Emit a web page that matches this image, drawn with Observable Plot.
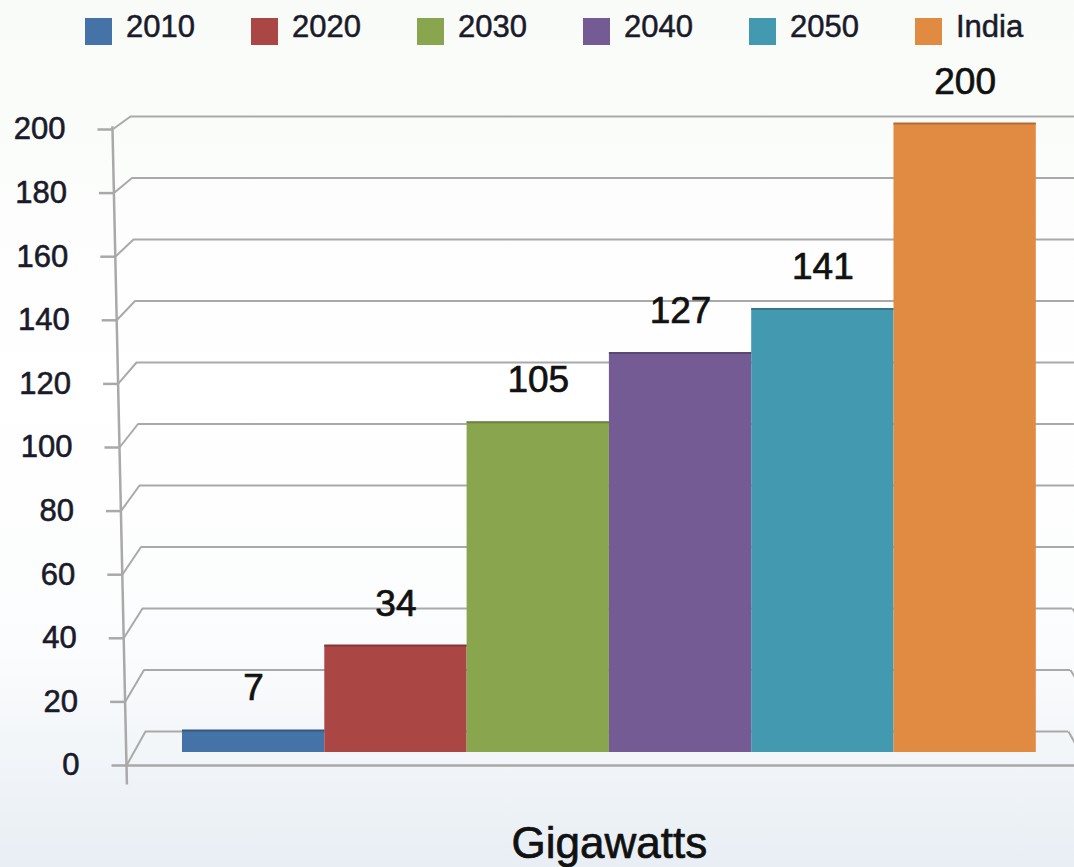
<!DOCTYPE html>
<html>
<head>
<meta charset="utf-8">
<script src="https://cdn.jsdelivr.net/npm/d3@7"></script>
<script src="https://cdn.jsdelivr.net/npm/@observablehq/plot@0.6"></script>
<style>
  html, body { margin: 0; padding: 0; overflow: hidden; }
  body {
    width: 1074px; height: 867px;
    background: linear-gradient(180deg, #f8fbf8 0%, #ffffff 45%, #fbfcfd 75%, #e8eef4 100%);
    font-family: "Liberation Sans", Arial, sans-serif;
  }
  #legend { position: relative; height: 60px; width: 1074px; }
  .item-sw { position: absolute; top: 18px; width: 27px; height: 27px; }
  .item-tx { position: absolute; top: 11px; font-size: 31px; line-height: 31px; color: #1a1a2a; -webkit-text-stroke: 0.5px #1a1a2a; }
  #chart svg { display: block; }
</style>
</head>
<body>
<div id="legend"></div>
<div id="chart"></div>
<script>
// ---- data ----
const categories = ["2010", "2020", "2030", "2040", "2050", "India"];
const values = [7, 34, 105, 127, 141, 200];
const labels = ["7", "34", "105", "127", "141", "200"];
const colors = ["#4572A7", "#AA4643", "#89A54E", "#745B93", "#4299B0", "#E08A42"];
const yTicks = [0, 20, 40, 60, 80, 100, 120, 140, 160, 180, 200];
const xLabel = "Gigawatts";

// ---- layout (pixels) ----
const W = 1074, H = 807;
const SLOT_PX = 142.3, BAR_LEFT_PX = 182;
const U = px => (px - BAR_LEFT_PX) / SLOT_PX;          // pixel -> slot units on x
const BAR_PX_PER_UNIT = 3.145;
// depth planes of the pseudo-3D box, expressed in bar-plane value units
const plane = (v, baseShiftPx, pxPerUnit) => (pxPerUnit * v - baseShiftPx) / BAR_PX_PER_UNIT;
const front = v => plane(v, 13, 3.18);
const back = v => plane(v, -21, 3.075);
const xFront = v => 126 - 0.07 * v;
const xBack = v => 145 - 0.075 * v;
const xBackRight = v => 1068 + 0.1 * v;
const gridColor = "#a9a9a9";
const ink = "#1a1a2a";

// ---- legend ----
const legend = document.getElementById("legend");
categories.forEach((c, i) => {
  const sw = document.createElement("div");
  sw.className = "item-sw";
  sw.style.left = (85 + 166 * i) + "px";
  sw.style.background = colors[i];
  const tx = document.createElement("div");
  tx.className = "item-tx";
  tx.style.left = (126 + 166 * i) + "px";
  tx.textContent = c;
  legend.appendChild(sw);
  legend.appendChild(tx);
});

// ---- chart ----
const data = categories.map((c, i) => ({series: c, i, value: values[i], label: labels[i]}));
const yTop = Math.max(...yTicks);
const yBottom = Math.min(...yTicks);

const chart = Plot.plot({
  width: W,
  height: H,
  marginTop: 63,
  marginBottom: 115,
  marginLeft: 0,
  marginRight: 0,
  style: {background: "transparent", fontFamily: "\"Liberation Sans\", Arial, sans-serif", color: ink},
  x: {type: "linear", domain: [U(0), U(W)], axis: null},
  y: {domain: [0, 200], axis: null},
  color: {domain: categories, range: colors},
  marks: [
    // back wall gridlines
    Plot.ruleY(yTicks, {y: back, x1: v => U(xBack(v)), x2: v => U(xBackRight(v)), stroke: gridColor, strokeWidth: 2}),
    // left wall connectors (front tick -> back gridline)
    Plot.link(yTicks, {x1: v => U(xFront(v)), y1: front, x2: v => U(xBack(v)), y2: back, stroke: gridColor, strokeWidth: 2}),
    // right wall connectors
    Plot.link(yTicks, {x1: v => U(xBackRight(v)), y1: back, x2: v => U(xBackRight(v) + 19), y2: front, stroke: gridColor, strokeWidth: 2}),
    // front floor edge
    Plot.ruleY([yBottom], {y: front, x1: v => U(xFront(v)), x2: U(W + 10), stroke: gridColor, strokeWidth: 2.5}),
    // front vertical axis line
    Plot.link([[yTop + 1, yBottom - 6]], {x1: d => U(xFront(d[0])), y1: d => front(d[0]), x2: d => U(xFront(d[1])), y2: d => front(d[1]), stroke: gridColor, strokeWidth: 2.5}),
    // tick marks
    Plot.link(yTicks, {x1: v => U(xFront(v) - 15), y1: front, x2: v => U(xFront(v)), y2: front, stroke: gridColor, strokeWidth: 2.5}),
    // tick labels
    Plot.text(yTicks, {x: v => U(xFront(v) - 47), y: front, text: v => String(v), textAnchor: "end", fontSize: 31, fill: ink, stroke: ink, strokeWidth: 0.6}),
    // bars
    Plot.rectY(data, {x1: d => d.i, x2: d => d.i + 1, y: "value", fill: "series"}),
    // darker top edges of bars
    Plot.ruleY(data, {y: "value", x1: d => d.i, x2: d => d.i + 1, stroke: d => d3.color(colors[d.i]).darker(0.7).formatHex(), strokeWidth: 2}),
    // value labels
    Plot.text(data, {x: d => d.i + 0.5, y: "value", text: "label", dy: -30, lineAnchor: "bottom", fontSize: 37, fill: "#111", stroke: "#111", strokeWidth: 0.7}),
    // x label
    Plot.text([xLabel], {x: categories.length / 2, frameAnchor: "bottom", dy: 105, lineAnchor: "bottom", fontSize: 44, fill: "#111", stroke: "#111", strokeWidth: 0.7})
  ]
});
document.getElementById("chart").appendChild(chart);
</script>
</body>
</html>
